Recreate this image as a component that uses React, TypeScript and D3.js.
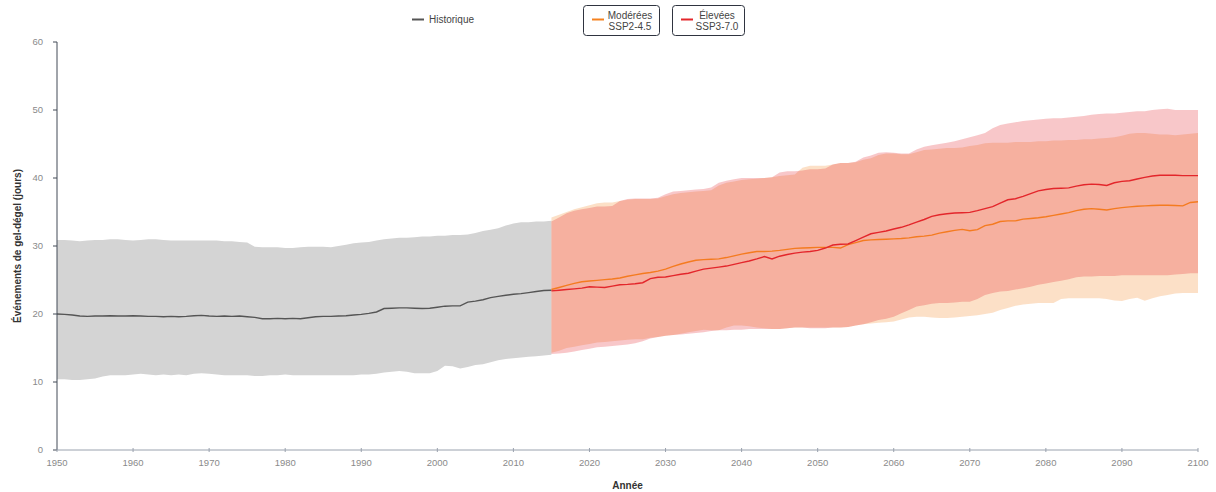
import React from "react";
import * as d3 from "d3";

// ---------- DATA ----------
const histStart = 1950;
const projStart = 2015;

const histMean = [
  20.0, 19.95, 19.85, 19.7, 19.65, 19.7, 19.7, 19.75, 19.7, 19.7,
  19.75, 19.7, 19.65, 19.65, 19.6, 19.65, 19.6, 19.65, 19.75, 19.8,
  19.7, 19.65, 19.7, 19.65, 19.7, 19.6, 19.5, 19.3, 19.3, 19.35,
  19.3, 19.35, 19.3, 19.45, 19.6, 19.65, 19.65, 19.7, 19.75, 19.85,
  19.95, 20.1, 20.3, 20.8, 20.85, 20.9, 20.9, 20.85, 20.8, 20.85,
  21.0, 21.15, 21.2, 21.2, 21.75, 21.9, 22.1, 22.4, 22.6, 22.75,
  22.9, 23.0, 23.15, 23.3, 23.45, 23.5,
];
const histUpper = [
  30.9, 30.9, 30.8, 30.7, 30.8, 30.9, 30.9, 31.0, 31.0, 30.9,
  30.8, 30.9, 31.0, 31.0, 30.9, 30.8, 30.8, 30.8, 30.8, 30.8,
  30.8, 30.8, 30.7, 30.7, 30.6, 30.5, 29.9, 29.8, 29.8, 29.8,
  29.7, 29.7, 29.8, 29.9, 29.9, 29.9, 29.8, 30.0, 30.2, 30.4,
  30.5, 30.6, 30.8, 31.0, 31.1, 31.2, 31.2, 31.3, 31.4, 31.4,
  31.5, 31.5, 31.6, 31.6, 31.7, 31.9, 32.2, 32.4, 32.6, 33.0,
  33.3, 33.5, 33.5, 33.6, 33.6, 33.7,
];
const histLower = [
  10.4, 10.4, 10.3, 10.3, 10.4, 10.5, 10.8, 11.0, 11.0, 11.0,
  11.1, 11.2, 11.1, 11.0, 11.1, 11.0, 11.1, 11.0, 11.2, 11.3,
  11.2, 11.1, 11.0, 11.0, 11.0, 11.0, 10.9, 10.9, 11.0, 11.0,
  11.1, 11.0, 11.0, 11.0, 11.0, 11.0, 11.0, 11.0, 11.0, 11.0,
  11.1, 11.1, 11.2, 11.4, 11.5, 11.6, 11.5, 11.3, 11.3, 11.3,
  11.6, 12.4, 12.3, 12.0, 12.2, 12.5, 12.6, 12.9, 13.2, 13.4,
  13.5, 13.6, 13.7, 13.8, 13.9, 14.0,
];

// SSP2-4.5 (2015-2100)
const ssp245Mean = [
  23.6, 23.9, 24.2, 24.5, 24.75, 24.85, 24.95, 25.05, 25.15, 25.3,
  25.55, 25.75, 25.95, 26.1, 26.3, 26.6, 27.0, 27.35, 27.65, 27.9,
  28.0, 28.05, 28.1, 28.3, 28.55, 28.8, 29.0, 29.2, 29.2, 29.25,
  29.35, 29.5, 29.65, 29.7, 29.75, 29.8, 29.8, 29.8, 29.7, 30.2,
  30.5, 30.8, 30.9, 30.95, 31.0, 31.05, 31.1, 31.2, 31.35, 31.45,
  31.6, 31.9, 32.1, 32.3, 32.45, 32.25, 32.4, 33.0, 33.2, 33.6,
  33.7, 33.7, 33.95, 34.05, 34.15, 34.3, 34.5, 34.7, 34.9, 35.2,
  35.4, 35.5, 35.4, 35.3, 35.5, 35.65, 35.75, 35.85, 35.9, 35.95,
  36.0, 36.0, 35.95, 35.9, 36.4, 36.5,
];
const ssp245Upper = [
  34.2, 34.6, 35.0, 35.4, 35.7, 36.0, 36.3, 36.4, 36.4, 36.6,
  36.8, 36.9, 36.9, 36.9, 37.0, 37.3, 37.6, 37.8, 37.9, 38.0,
  38.1, 38.2, 38.9, 39.3, 39.5, 39.7, 39.8, 39.9, 40.0, 40.1,
  40.3, 40.4, 40.5, 41.5, 41.8, 41.8, 41.8, 42.0, 42.2, 42.2,
  42.3, 42.7, 42.9, 43.4, 43.6, 43.6, 43.5, 43.5, 43.8, 44.1,
  44.2, 44.3, 44.4, 44.4, 44.5, 44.7, 44.85, 45.1, 45.2, 45.2,
  45.2, 45.3, 45.3, 45.3, 45.4, 45.4, 45.5, 45.5, 45.6, 45.6,
  45.7, 45.7, 45.8, 45.9, 46.0, 46.2, 46.5, 46.6, 46.6, 46.5,
  46.4, 46.4, 46.3, 46.4, 46.5, 46.6,
];
const ssp245Lower = [
  14.3, 14.6, 15.0, 15.2, 15.4, 15.6, 15.8, 15.9, 16.0, 16.1,
  16.2, 16.3, 16.3, 16.5, 16.6, 16.8, 16.9, 17.1, 17.3, 17.5,
  17.7, 17.6, 17.6, 18.0, 18.3, 18.3, 18.2, 18.0, 17.9, 17.8,
  17.8, 17.9, 18.0, 18.0, 18.0, 18.0, 18.0, 18.0, 18.0, 18.1,
  18.3, 18.5, 18.6, 18.7, 18.8, 18.9, 19.2, 19.5, 19.6, 19.6,
  19.5, 19.4, 19.4, 19.5, 19.6, 19.7, 19.8, 20.0, 20.2, 20.6,
  20.9, 21.2, 21.4, 21.5, 21.6, 21.6, 21.6, 22.2, 22.3, 22.3,
  22.3, 22.3, 22.3, 22.2, 22.0, 21.9, 22.2, 22.4, 21.95, 22.3,
  22.6, 22.8, 23.0, 23.1, 23.1, 23.1,
];

// SSP3-7.0 (2015-2100)
const ssp370Mean = [
  23.4, 23.5, 23.6, 23.7, 23.8, 24.0, 23.95, 23.9, 24.1, 24.3,
  24.35, 24.45, 24.6, 25.2, 25.4, 25.45, 25.65, 25.85, 26.0, 26.3,
  26.6, 26.75, 26.9, 27.05, 27.3, 27.55, 27.8, 28.1, 28.45, 28.1,
  28.5, 28.75, 28.95, 29.1, 29.2, 29.35, 29.7, 30.15, 30.25, 30.3,
  30.8, 31.3, 31.8, 32.0, 32.2, 32.5, 32.75, 33.1, 33.5, 33.9,
  34.35, 34.6, 34.75, 34.85, 34.9, 34.95, 35.2, 35.5, 35.8, 36.3,
  36.8, 36.95, 37.3, 37.7, 38.1, 38.3, 38.45, 38.5, 38.55, 38.8,
  39.0, 39.1, 39.05, 38.9, 39.3, 39.5, 39.6, 39.85, 40.1, 40.3,
  40.4, 40.4, 40.4, 40.35, 40.35, 40.35,
];
const ssp370Upper = [
  33.6, 34.2, 34.8, 35.2, 35.4, 35.6, 35.8, 35.8, 35.9, 36.6,
  36.9, 37.0, 37.0, 37.0, 37.1, 37.6, 38.0, 38.1, 38.2, 38.3,
  38.4, 38.6, 39.3, 39.6, 39.8, 40.0, 40.0, 40.0, 40.0, 40.1,
  40.8, 41.0, 41.0, 41.1, 41.3, 41.3, 41.4, 42.0, 42.2, 42.2,
  42.4, 43.0, 43.3, 43.7, 43.8, 43.7, 43.6, 43.6, 44.2, 44.6,
  44.8, 45.0, 45.2, 45.4, 45.7, 46.0, 46.3, 46.6, 47.3, 47.8,
  48.0, 48.2, 48.4, 48.5, 48.6, 48.7, 48.8, 48.8, 48.9, 49.0,
  49.1, 49.3, 49.4, 49.5, 49.5, 49.6, 49.7, 49.8, 49.8, 50.0,
  50.1, 50.2, 50.0, 50.0, 50.0, 50.0,
];
const ssp370Lower = [
  14.1, 14.2, 14.3, 14.5, 14.7, 14.9, 15.1, 15.2, 15.3, 15.4,
  15.5, 15.7, 16.0, 16.4, 16.6, 16.8, 16.9, 17.0, 17.1, 17.2,
  17.3, 17.5, 17.6, 17.6, 17.7, 17.7, 17.8, 17.8, 17.8, 17.8,
  17.8, 17.9, 18.0, 18.0, 17.9, 17.9, 17.9, 18.0, 18.0, 18.1,
  18.3, 18.5, 18.8, 19.1, 19.3, 19.6, 20.1, 20.6, 21.1, 21.3,
  21.5, 21.6, 21.6, 21.7, 21.8, 21.8, 22.2, 22.8, 23.1, 23.3,
  23.4, 23.6, 23.8, 24.0, 24.3, 24.5, 24.7, 24.9, 25.1, 25.4,
  25.5, 25.5, 25.6, 25.6, 25.6, 25.7, 25.7, 25.7, 25.7, 25.7,
  25.7, 25.7, 25.8, 25.9, 26.0, 26.0,
];

const xTicks = [1950, 1960, 1970, 1980, 1990, 2000, 2010, 2020, 2030, 2040, 2050, 2060, 2070, 2080, 2090, 2100];
const yTicks = [0, 10, 20, 30, 40, 50, 60];

const legendItems = [
  { key: "hist", label: ["Historique"], color: "#555555" },
  { key: "ssp245", label: ["Modérées", "SSP2-4.5"], color: "#f58220" },
  { key: "ssp370", label: ["Élevées", "SSP3-7.0"], color: "#e3262b" },
];

// ---------- COMPONENT ----------
type Row = { year: number; mean: number; lo: number; hi: number };

function toRows(start: number, mean: number[], lo: number[], hi: number[]): Row[] {
  return mean.map((m, i) => ({ year: start + i, mean: m, lo: lo[i], hi: hi[i] }));
}

export default function App() {
  const W = 1216;
  const H = 492;
  const m = { left: 57, right: 18, top: 42, bottom: 42 };

  const x = d3.scaleLinear().domain([1950, 2100]).range([m.left, W - m.right]);
  const y = d3.scaleLinear().domain([0, 60]).range([H - m.bottom, m.top]);

  const hist = toRows(histStart, histMean, histLower, histUpper);
  const s245 = toRows(projStart, ssp245Mean, ssp245Lower, ssp245Upper);
  const s370 = toRows(projStart, ssp370Mean, ssp370Lower, ssp370Upper);

  const area = d3
    .area<Row>()
    .x((d) => x(d.year))
    .y0((d) => y(d.lo))
    .y1((d) => y(d.hi));
  const line = d3
    .line<Row>()
    .x((d) => x(d.year))
    .y((d) => y(d.mean));

  const font = "'Liberation Sans', Arial, sans-serif";
  const x0 = x(1950);
  const y0 = y(0);

  return (
    <svg
      width={W}
      height={H}
      style={{ position: "absolute", left: 0, top: 0, background: "#fff" }}
      fontFamily={font}
    >
      {/* bands */}
      <path d={area(hist) || ""} fill="#d4d4d4" />
      <path d={area(s245) || ""} fill="#f58220" fillOpacity={0.25} />
      <path d={area(s370) || ""} fill="#e41e26" fillOpacity={0.25} />

      {/* lines */}
      <path d={line(hist) || ""} fill="none" stroke="#555555" strokeWidth={1.4} />
      <path d={line(s245) || ""} fill="none" stroke="#f47b20" strokeWidth={1.4} />
      <path d={line(s370) || ""} fill="none" stroke="#e3262b" strokeWidth={1.4} />

      {/* y axis */}
      <line x1={x0} x2={x0} y1={y(60)} y2={y0} stroke="#434a57" strokeWidth={1} />
      {yTicks.map((t) => (
        <g key={"y" + t}>
          <line x1={x0 - 4} x2={x0} y1={y(t)} y2={y(t)} stroke="#434a57" strokeWidth={1} />
          <text x={x0 - 14} y={y(t)} dy="0.32em" textAnchor="end" fontSize={9.5} fill="#8a8a8a">
            {t}
          </text>
        </g>
      ))}

      {/* x axis */}
      <line x1={x0} x2={x(2100)} y1={y0} y2={y0} stroke="#9aa2ae" strokeWidth={1} />
      {xTicks.map((t) => (
        <g key={"x" + t}>
          <line x1={x(t)} x2={x(t)} y1={y0 - 2} y2={y0 + 2} stroke="#9aa2ae" strokeWidth={1} />
          <text x={x(t)} y={y0 + 16} textAnchor="middle" fontSize={9.5} fill="#8a8a8a">
            {t}
          </text>
        </g>
      ))}

      {/* axis titles */}
      <text
        transform={`translate(${17},${(y(60) + y0) / 2}) rotate(-90)`}
        textAnchor="middle"
        dy="0.35em"
        fontSize={10}
        fontWeight="bold"
        fill="#333"
      >
        Événements de gel-dégel (jours)
      </text>
      <text x={(x0 + x(2100)) / 2} y={489} textAnchor="middle" fontSize={10} fontWeight="bold" fill="#333">
        Année
      </text>

      {/* legend */}
      <g>
        <line x1={412} x2={424} y1={19.5} y2={19.5} stroke={legendItems[0].color} strokeWidth={2} />
        <text x={429} y={19.5} dy="0.35em" fontSize={10} fill="#444">
          {legendItems[0].label[0]}
        </text>
      </g>
      <g>
        <rect x={583.5} y={5.5} width={76} height={30} rx={3} fill="#fff" stroke="#2f3440" strokeWidth={1} />
        <line x1={592} x2={604} y1={19.5} y2={19.5} stroke={legendItems[1].color} strokeWidth={2} />
        <text x={630} y={15} dy="0.35em" textAnchor="middle" fontSize={10} fill="#444">
          {legendItems[1].label[0]}
        </text>
        <text x={630} y={26} dy="0.35em" textAnchor="middle" fontSize={10} fill="#444">
          {legendItems[1].label[1]}
        </text>
      </g>
      <g>
        <rect x={672.5} y={5.5} width={72} height={30} rx={3} fill="#fff" stroke="#2f3440" strokeWidth={1} />
        <line x1={681} x2={693} y1={19.5} y2={19.5} stroke={legendItems[2].color} strokeWidth={2} />
        <text x={717} y={15} dy="0.35em" textAnchor="middle" fontSize={10} fill="#444">
          {legendItems[2].label[0]}
        </text>
        <text x={717} y={26} dy="0.35em" textAnchor="middle" fontSize={10} fill="#444">
          {legendItems[2].label[1]}
        </text>
      </g>
    </svg>
  );
}
